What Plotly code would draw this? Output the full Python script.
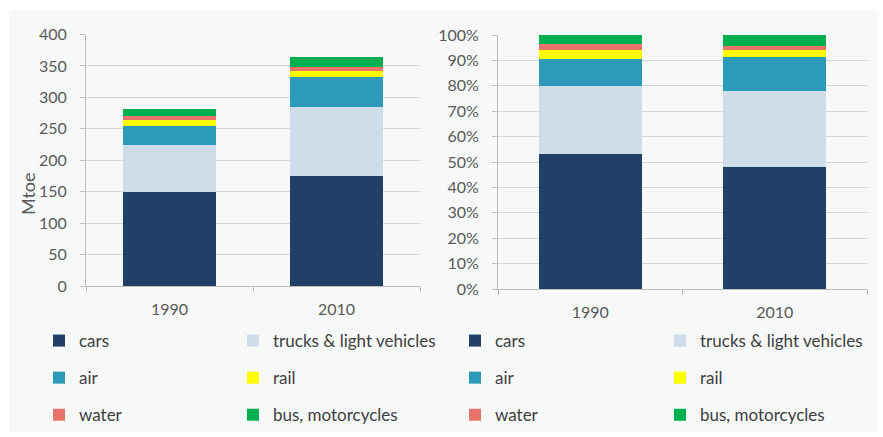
import plotly.graph_objects as go

# Transport energy consumption by mode (Mtoe)
years = ["1990", "2010"]
modes = ["cars", "trucks & light vehicles", "air", "rail", "water", "bus, motorcycles"]
cars = [149, 175]
trucks = [76, 109]
air = [30, 49]
rail = [9, 9]
water = [7, 6]
bus = [10, 16]
mtoe_ticks = [0, 50, 100, 150, 200, 250, 300, 350, 400]
share_ticks = [0, 0.1, 0.2, 0.3, 0.4, 0.5, 0.6, 0.7, 0.8, 0.9, 1.0]

colors = ["#223f68", "#cfdce9", "#2b9bb9", "#ffff00", "#e8736b", "#00b050"]
series = [cars, trucks, air, rail, water, bus]
totals = [sum(s[i] for s in series) for i in range(len(years))]
shares = [[v / t for v, t in zip(s, totals)] for s in series]

W, H = 883, 437
FONT = "Lato, 'Open Sans', sans-serif"
TICK_COLOR = "#595959"
LINE_COLOR = "#bdbdbd"
GRID_COLOR = "#d6d6d6"
PANEL = "#f6f9f7"


def fx(x):
    return x / W


def fy(y):
    return 1 - y / H


fig = go.Figure()

for i, (name, col) in enumerate(zip(modes, colors)):
    left_legend = "legend" if i % 2 == 0 else "legend2"
    right_legend = "legend3" if i % 2 == 0 else "legend4"
    fig.add_trace(go.Bar(
        x=years, y=series[i], name=name, marker=dict(color=col, line=dict(width=0)),
        xaxis="x", yaxis="y", legend=left_legend, legendgroup="abs-" + name,
    ))
    fig.add_trace(go.Bar(
        x=years, y=shares[i], name=name, marker=dict(color=col, line=dict(width=0)),
        xaxis="x2", yaxis="y2", legend=right_legend, legendgroup="pct-" + name,
    ))

axis_font = dict(family=FONT, size=16, color=TICK_COLOR)
xcommon = dict(
    type="category", showline=True, linecolor=LINE_COLOR, linewidth=1,
    ticks="outside", tickson="boundaries", ticklen=5, tickcolor=LINE_COLOR,
    tickfont=axis_font, showgrid=False, ticklabelstandoff=9, fixedrange=True,
)
ycommon = dict(
    showline=True, linecolor=LINE_COLOR, linewidth=1, ticks="outside", ticklen=5,
    tickcolor=LINE_COLOR, tickfont=axis_font, showgrid=True, gridcolor=GRID_COLOR,
    gridwidth=1, zeroline=False, ticklabelstandoff=10, fixedrange=True,
)

legend_common = dict(
    orientation="v", xanchor="left", yanchor="top", bgcolor="rgba(0,0,0,0)",
    borderwidth=0, font=dict(family=FONT, size=17, color="#404040"),
    traceorder="grouped", tracegroupgap=12, itemwidth=30, itemclick=False,
    itemdoubleclick=False,
)

fig.update_layout(
    width=W, height=H, autosize=False,
    margin=dict(l=0, r=0, t=0, b=0, pad=0, autoexpand=False),
    paper_bgcolor="white", plot_bgcolor="rgba(0,0,0,0)",
    barmode="stack", bargap=0.444,
    font=dict(family=FONT, size=16, color=TICK_COLOR),
    xaxis=dict(domain=[fx(86), fx(420)], anchor="y", **xcommon),
    yaxis=dict(domain=[fy(286), fy(34.5)], anchor="x", range=[0, 400],
               tickvals=mtoe_ticks, **ycommon),
    xaxis2=dict(domain=[fx(498), fx(867)], anchor="y2", **xcommon),
    yaxis2=dict(domain=[fy(289), fy(35)], anchor="x2", range=[0, 1],
                tickvals=share_ticks, tickformat=".0%", **ycommon),
    legend=dict(x=fx(39), y=fy(323), **legend_common),
    legend2=dict(x=fx(233), y=fy(323), **legend_common),
    legend3=dict(x=fx(455), y=fy(323), **legend_common),
    legend4=dict(x=fx(660), y=fy(323), **legend_common),
    shapes=[dict(type="rect", xref="paper", yref="paper", layer="below",
                 x0=fx(9), x1=fx(877), y0=fy(432), y1=fy(10),
                 fillcolor=PANEL, line=dict(width=0))],
    annotations=[dict(text="Mtoe", xref="paper", yref="paper", x=fx(28), y=fy(193),
                      xanchor="center", yanchor="middle", textangle=-90, showarrow=False,
                      font=dict(family=FONT, size=18, color=TICK_COLOR))],
)

fig.write_html("out.html", config=dict(displayModeBar=False))
